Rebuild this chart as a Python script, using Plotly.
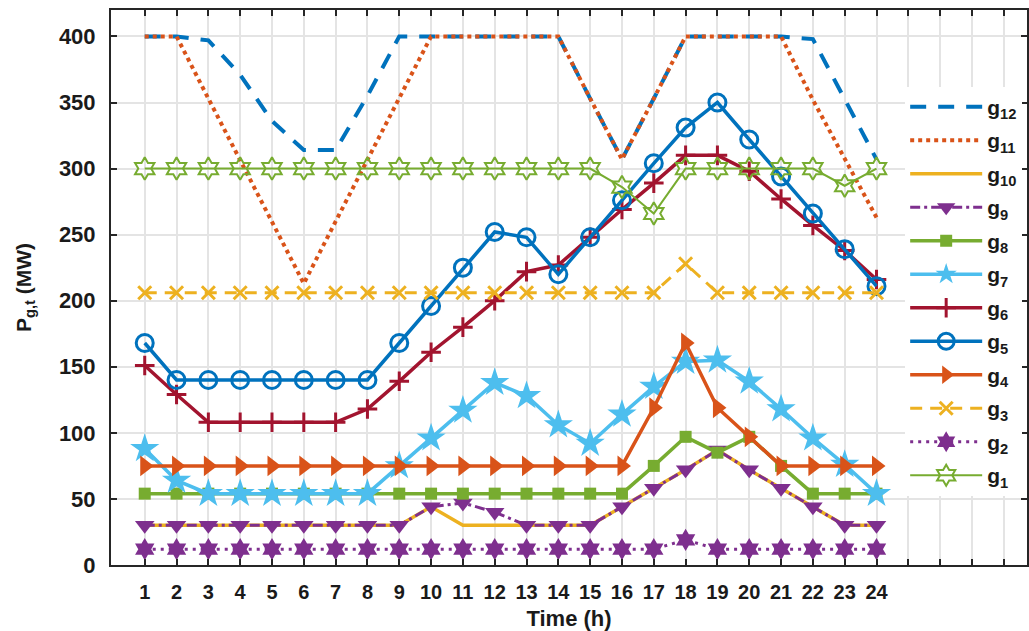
import plotly.graph_objects as go

# Hourly generator dispatch P_{g,t} (MW), hours 1..24
hours = list(range(1, 25))

g12 = [400, 400, 397, 371, 336, 314, 314, 355, 400, 400, 400, 400,
       400, 400, 353, 307, 353, 400, 400, 400, 400, 398, 352, 307]
g11 = [400, 400, 353, 306, 260, 213, 260, 307, 353, 400, 400, 400,
       400, 400, 353, 307, 353, 400, 400, 400, 400, 352, 307, 263]
g10 = [30, 30, 30, 30, 30, 30, 30, 30, 30, 44, 30, 30,
       30, 30, 30, 44, 58, 72, 87, 72, 58, 44, 30, 30]
g9 = [30, 30, 30, 30, 30, 30, 30, 30, 30, 44, 47, 40,
      30, 30, 30, 44, 58, 72, 87, 72, 58, 44, 30, 30]
g8 = [54, 54, 54, 54, 54, 54, 54, 54, 54, 54, 54, 54,
      54, 54, 54, 54, 75, 97, 85, 97, 75, 54, 54, 54]
g7 = [88, 64, 54, 54, 54, 54, 54, 54, 75, 96, 117, 138,
      128, 106, 92, 114, 135, 154, 155, 139, 118, 96, 76, 54]
g6 = [151, 129, 108, 108, 108, 108, 108, 118, 139, 161, 180, 200,
      222, 227, 248, 269, 289, 310, 310, 298, 277, 257, 238, 216]
g5 = [168, 140, 140, 140, 140, 140, 140, 140, 168, 196, 225, 252,
      248, 220, 248, 276, 304, 331, 350, 322, 294, 266, 239, 211]
g4 = [75, 75, 75, 75, 75, 75, 75, 75, 75, 75, 75, 75,
      75, 75, 75, 75, 119, 168, 119, 97, 75, 75, 75, 75]
g3 = [206, 206, 206, 206, 206, 206, 206, 206, 206, 206, 206, 206,
      206, 206, 206, 206, 206, 228, 206, 206, 206, 206, 206, 206]
g2 = [12, 12, 12, 12, 12, 12, 12, 12, 12, 12, 12, 12,
      12, 12, 12, 12, 12, 19, 12, 12, 12, 12, 12, 12]
g1 = [300, 300, 300, 300, 300, 300, 300, 300, 300, 300, 300, 300,
      300, 300, 300, 286, 266, 300, 300, 300, 300, 300, 287, 300]

x_ticks = hours
x_ticklabels = [str(h) for h in hours]
x_extra_ticks = [25, 26, 27, 28]
y_ticks = [0, 50, 100, 150, 200, 250, 300, 350, 400]

BLUE = "#0072BD"
ORANGE = "#D95319"
YELLOW = "#EDB120"
PURPLE = "#7E2F8E"
GREEN = "#77AC30"
CYAN = "#4DBEEE"
RED = "#A2142F"

# name, values, colour, line width, dash, marker symbol, marker size
series = [
    ("g<sub>12</sub>", g12, BLUE, 4, "16px,12px", None, 0),
    ("g<sub>11</sub>", g11, ORANGE, 4, "4px,4px", None, 0),
    ("g<sub>10</sub>", g10, YELLOW, 3.5, "solid", None, 0),
    ("g<sub>9</sub>", g9, PURPLE, 3, "10px,4px,3px,4px", "triangle-down", 17),
    ("g<sub>8</sub>", g8, GREEN, 3.5, "solid", "square", 12),
    ("g<sub>7</sub>", g7, CYAN, 3.5, "solid", "star", 22),
    ("g<sub>6</sub>", g6, RED, 3.5, "solid", "cross-thin", 14),
    ("g<sub>5</sub>", g5, BLUE, 3.5, "solid", "circle-open", 17),
    ("g<sub>4</sub>", g4, ORANGE, 3.5, "solid", "triangle-right", 18),
    ("g<sub>3</sub>", g3, YELLOW, 3, "12px,8px", "x-thin", 13),
    ("g<sub>2</sub>", g2, PURPLE, 3, "3px,5px", "hexagram", 17),
    ("g<sub>1</sub>", g1, GREEN, 2, "solid", "hexagram-open", 17),
]

fig = go.Figure()
for i, (name, vals, color, lw, dash, sym, msize) in enumerate(series):
    kw = dict(mode="lines")
    if sym is not None:
        kw["mode"] = "lines+markers"
        open_like = sym.endswith("-open") or sym.endswith("-thin")
        kw["marker"] = dict(
            symbol=sym, size=msize, color=color,
            line=dict(color=color, width=3 if open_like else 0),
        )
        if sym == "hexagram-open":
            kw["marker"]["line"]["width"] = 2
    fig.add_trace(go.Scatter(
        x=hours, y=vals, name=name, legendgroup=f"grp{i}",
        line=dict(color=color, width=lw, dash=dash),
        **kw,
    ))

AX = "#262626"
GRID = "#e4e4e4"
fig.update_layout(
    width=1029, height=631,
    margin=dict(l=111, r=0, t=10, b=66),
    paper_bgcolor="white", plot_bgcolor="white",
    font=dict(family="Liberation Sans, Arial, sans-serif", color="#1a1a1a"),
    showlegend=True,
    legend=dict(
        x=0.867, xanchor="left", y=0.862, yanchor="top",
        bgcolor="white", borderwidth=0,
        font=dict(size=21, weight="bold", color="#1a1a1a"),
        itemwidth=72, tracegroupgap=3.2,
    ),
    xaxis=dict(
        range=[-0.06, 28.73],
        tickmode="array", tickvals=x_ticks, ticktext=x_ticklabels,
        ticks="inside", ticklen=6, tickwidth=1.5, tickcolor=AX,
        minor=dict(tickmode="array", tickvals=x_extra_ticks,
                   ticks="inside", ticklen=6, tickwidth=1.5, tickcolor=AX,
                   showgrid=True, gridcolor=GRID, gridwidth=2),
        showline=True, linecolor=AX, linewidth=2, mirror="ticks",
        showgrid=True, gridcolor=GRID, gridwidth=2,
        zeroline=False,
        tickfont=dict(size=20, weight="bold", color="#1a1a1a"),
        ticklabelstandoff=8,
        title=dict(text="Time (h)", standoff=10,
                   font=dict(size=22, weight="bold", color="#1a1a1a")),
    ),
    yaxis=dict(
        range=[0, 420],
        tickmode="array", tickvals=y_ticks,
        ticks="inside", ticklen=6, tickwidth=1.5, tickcolor=AX,
        showline=True, linecolor=AX, linewidth=2, mirror="ticks",
        showgrid=True, gridcolor=GRID, gridwidth=2,
        zeroline=False,
        tickfont=dict(size=22, weight="bold", color="#1a1a1a"),
        ticklabelstandoff=9,
        title=dict(text="P<sub>g,t</sub> (MW)", standoff=22,
                   font=dict(size=21, weight="bold", color="#1a1a1a")),
    ),
)

fig.write_html("out.html")
